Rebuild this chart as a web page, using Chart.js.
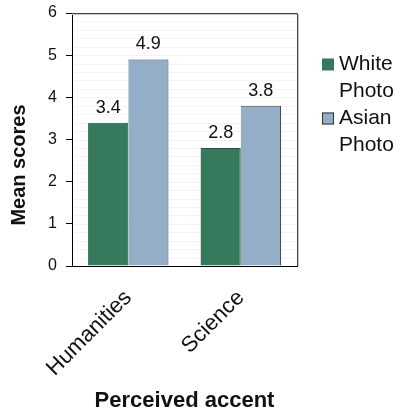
<!DOCTYPE html>
<html>
<head>
<meta charset="utf-8">
<script src="https://cdn.jsdelivr.net/npm/chart.js@4"></script>
<style>
  html, body { margin: 0; padding: 0; background: #fff; }
  #wrap { width: 404px; height: 417px; position: relative; }
</style>
</head>
<body>
<div id="wrap"><canvas id="c" width="404" height="417"></canvas></div>
<script>
// Mean scores by perceived accent and photo shown
const categories = ['Humanities', 'Science'];
const whitePhoto = [3.4, 2.8];
const asianPhoto = [4.9, 3.8];
const seriesNames = [['White', 'Photo'], ['Asian', 'Photo']];
const yTicks = [0, 1, 2, 3, 4, 5, 6];
const yTitle = 'Mean scores';
const xTitle = 'Perceived accent';

const FONT = 'Liberation Sans, Arial, sans-serif';

// Plot frame, faint background stripes and the dark top/right border
const framePlugin = {
  id: 'frame',
  beforeDatasetsDraw(chart) {
    const { ctx, chartArea: a, scales: { y } } = chart;
    ctx.save();
    ctx.strokeStyle = '#f4f4f4';
    ctx.lineWidth = 1;
    for (let k = 1; k < 30; k++) {
      const py = Math.round(y.getPixelForValue(k / 5)) + 0.5;
      ctx.beginPath();
      ctx.moveTo(a.left + 2, py);
      ctx.lineTo(a.right, py);
      ctx.stroke();
    }
    ctx.strokeStyle = '#c8c8c8';
    ctx.beginPath();
    ctx.moveTo(a.left, a.top + 1.5);
    ctx.lineTo(a.right + 1.5, a.top + 1.5);
    ctx.lineTo(a.right + 1.5, a.bottom);
    ctx.stroke();
    ctx.strokeStyle = '#444';
    ctx.beginPath();
    ctx.moveTo(a.left, a.top + 0.5);
    ctx.lineTo(a.right + 0.5, a.top + 0.5);
    ctx.lineTo(a.right + 0.5, a.bottom);
    ctx.stroke();
    ctx.restore();
  }
};

// Value labels above each bar
const valueLabels = {
  id: 'valueLabels',
  afterDatasetsDraw(chart) {
    const { ctx } = chart;
    ctx.save();
    ctx.font = '18px ' + FONT;
    ctx.fillStyle = '#111';
    ctx.textAlign = 'center';
    ctx.textBaseline = 'alphabetic';
    chart.data.datasets.forEach((ds, i) => {
      chart.getDatasetMeta(i).data.forEach((bar, j) => {
        ctx.fillText(ds.data[j].toFixed(1), bar.x, bar.y - 10);
      });
    });
    ctx.restore();
  }
};

// Legend at the right with two-line entries, plus the rotated y title
const sideLegend = {
  id: 'sideLegend',
  afterDraw(chart) {
    const { ctx } = chart;
    ctx.save();
    ctx.font = '21px ' + FONT;
    ctx.textBaseline = 'middle';
    ctx.textAlign = 'left';
    const x0 = 322, lineH = 27;
    let yy = 64.5;
    chart.data.datasets.forEach((ds, i) => {
      ctx.fillStyle = ds.backgroundColor;
      ctx.fillRect(x0, yy - 6, 12, 12);
      if (i === 1) {
        ctx.strokeStyle = '#333';
        ctx.lineWidth = 1;
        ctx.strokeRect(x0 + 0.5, yy - 5.5, 11, 11);
      }
      ctx.fillStyle = '#111';
      seriesNames[i].forEach((t, k) => {
        ctx.fillText(t, x0 + 17, yy + k * lineH);
      });
      yy += lineH * 2;
    });
    ctx.restore();

    ctx.save();
    ctx.translate(19, 165);
    ctx.rotate(-Math.PI / 2);
    ctx.font = 'bold 20px ' + FONT;
    ctx.fillStyle = '#111';
    ctx.textAlign = 'center';
    ctx.textBaseline = 'middle';
    ctx.fillText(yTitle, 0, 0);
    ctx.restore();
  }
};

new Chart(document.getElementById('c'), {
  type: 'bar',
  data: {
    labels: categories,
    datasets: [
      {
        label: 'White Photo',
        data: whitePhoto,
        backgroundColor: '#37795d',
        borderColor: '#2d4f3f',
        borderWidth: { top: 1, left: 0, right: 1, bottom: 0 },
        categoryPercentage: 0.715,
        barPercentage: 1.0
      },
      {
        label: 'Asian Photo',
        data: asianPhoto,
        backgroundColor: '#93aec6',
        borderColor: '#3a3f45',
        borderWidth: { top: 1, left: 0, right: 1, bottom: 0 },
        categoryPercentage: 0.715,
        barPercentage: 1.0
      }
    ]
  },
  options: {
    responsive: false,
    animation: false,
    devicePixelRatio: 1,
    layout: { padding: { top: 13, right: 107, left: 0, bottom: 0 } },
    plugins: {
      legend: { display: false },
      tooltip: { enabled: false }
    },
    scales: {
      x: {
        grid: { display: false, drawTicks: false },
        border: { display: true, color: '#000', width: 1 },
        ticks: {
          color: '#111',
          font: { family: FONT, size: 22 },
          minRotation: 45,
          maxRotation: 45,
          padding: 19
        },
        title: {
          display: true,
          text: xTitle,
          color: '#111',
          font: { family: FONT, size: 22, weight: 'bold' },
          padding: { top: 0, bottom: 3 }
        },
        afterFit(s) {
          s.height = 151;
          s.paddingLeft = 0;
          s.paddingRight = 0;
        }
      },
      y: {
        min: 0,
        max: 6,
        afterBuildTicks(s) { s.ticks = yTicks.map(v => ({ value: v })); },
        grid: {
          drawOnChartArea: false,
          drawTicks: true,
          tickLength: 6,
          color: '#000'
        },
        border: { display: true, color: '#000', width: 1 },
        ticks: {
          color: '#111',
          font: { family: FONT, size: 16 },
          padding: 9
        },
        title: { display: false },
        afterFit(s) {
          s.width = 72;
          s.paddingTop = 0;
          s.paddingBottom = 0;
        }
      }
    }
  },
  plugins: [framePlugin, valueLabels, sideLegend]
});
</script>
</body>
</html>
